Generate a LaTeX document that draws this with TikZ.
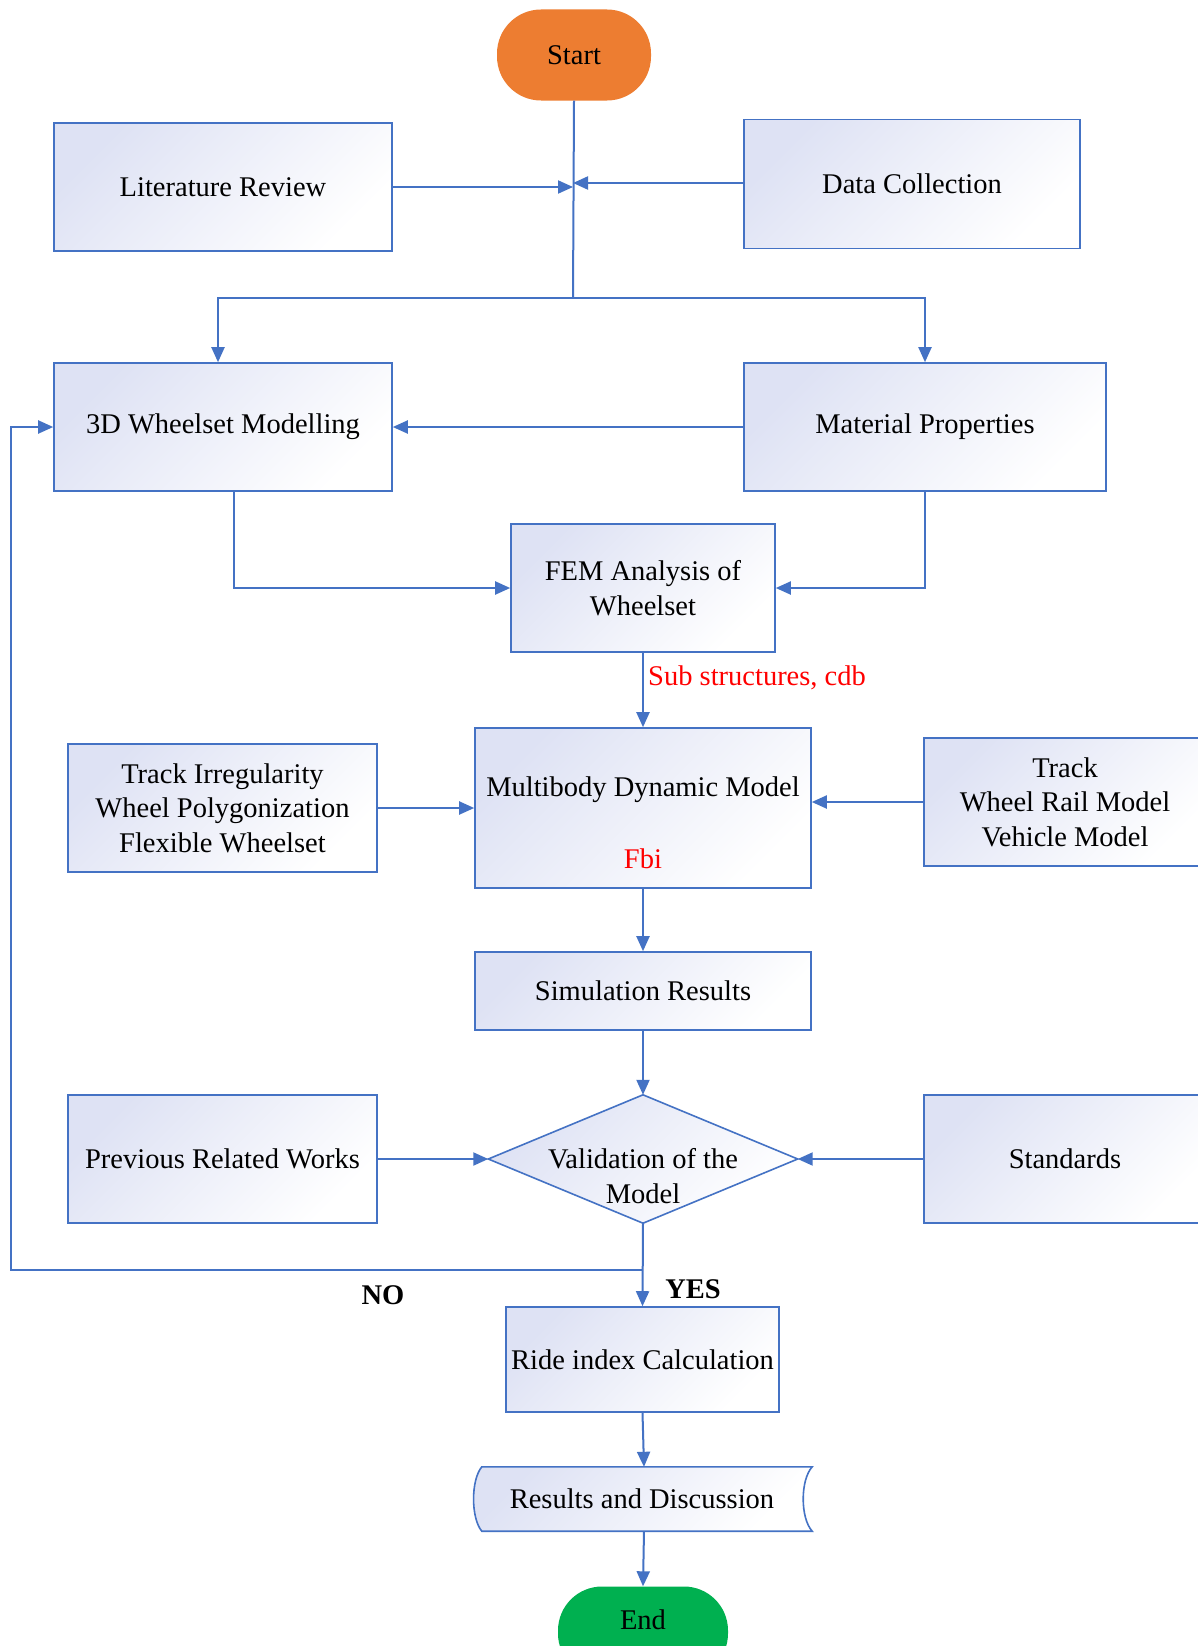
\documentclass[tikz,border=0pt]{standalone}
\usepackage{fontspec}
\setmainfont{Liberation Serif}
\usetikzlibrary{arrows.meta,calc}
\definecolor{lnc}{RGB}{68,114,196}
\definecolor{bxc}{RGB}{222,226,244}
\definecolor{orgc}{RGB}{237,125,49}
\definecolor{grnc}{RGB}{0,176,80}
\begin{document}
\begin{tikzpicture}[x=1pt,y=-1pt,
  every node/.style={font=\fontsize{28.5}{34.6}\selectfont, align=center, inner sep=0pt},
  shfill/.style={top color=bxc, bottom color=white, shading angle=45},
  box/.style={draw=lnc, line width=1.6pt, shfill},
  blank/.style={draw=none},
  term/.style={rounded corners=44pt, minimum width=154pt, minimum height=91pt},
  conn/.style={draw=lnc, line width=2pt},
  arr/.style={conn, -{Triangle[length=15pt,width=13pt]}},
  lbl/.style={font=\fontsize{28.5}{34.6}\selectfont\bfseries},
  red/.style={text=red}
]
\useasboundingbox (0,0) rectangle (1198,1646);
\clip (0,0) rectangle (1198,1646);
\fill[white] (0,0) rectangle (1198,1646);

% nodes
\node[term, fill=orgc] (start) at (574,55) {Start};
\node[box, minimum width=338pt, minimum height=128pt] (lit) at (223,187) {Literature Review};
\node[box, minimum width=336pt, minimum height=129pt] (data) at (912,184) {Data Collection};
\node[box, minimum width=338pt, minimum height=128pt] (w3d) at (223,427) {3D Wheelset Modelling};
\node[box, minimum width=362pt, minimum height=128pt] (mat) at (925,427) {Material Properties};
\node[box, minimum width=264pt, minimum height=128pt] (fem) at (643,588) {FEM Analysis of\\Wheelset};
\node[red, anchor=west] (sub) at (648,678) {Sub structures, cdb};
\node[box, minimum width=336pt, minimum height=160pt] (mbd) at (643,808) {};
\node (mbdt) at (643,790) {Multibody Dynamic Model};
\node[red] (fbi) at (643,859) {Fbi};
\node[box, minimum width=309pt, minimum height=128pt] (tirr) at (222.5,808) {Track Irregularity\\Wheel Polygonization\\Flexible Wheelset};
\node[box, minimum width=282pt, minimum height=128pt] (trk) at (1065,802) {Track\\Wheel Rail Model\\Vehicle Model};
\node[box, minimum width=336pt, minimum height=78pt] (sim) at (643,991) {Simulation Results};
\node[blank, minimum width=309pt, minimum height=128pt] (dia) at (643,1159) {};
\draw[box] (dia.north) -- (dia.east) -- (dia.south) -- (dia.west) -- cycle;
\node (diat) at (643,1176) {Validation of the\\Model};
\node[box, minimum width=309pt, minimum height=128pt] (prev) at (222.5,1159) {Previous Related Works};
\node[box, minimum width=282pt, minimum height=128pt] (std) at (1065,1159) {Standards};
\node[box, minimum width=273pt, minimum height=105pt] (ride) at (642.5,1359.5) {Ride index Calculation};
\node[blank, minimum width=336pt, minimum height=64pt] (res) at (644,1499) {};
\draw[box] ($(res.north west)+(6,0)$) -- (res.north east)
  .. controls ($(res.east)+(-12,-19)$) and ($(res.east)+(-12,19)$) .. (res.south east)
  -- ($(res.south west)+(6,0)$)
  .. controls ($(res.west)+(-5,19)$) and ($(res.west)+(-5,-19)$) .. cycle;
\node (rest) at (642,1499) {Results and Discussion};
\node[term, fill=grnc, minimum width=170pt] (end) at (643,1632) {\raisebox{24pt}{End}};
\node[lbl] (no) at (383,1295) {NO};
\node[lbl] (yes) at (693,1289) {YES};

% coordinates
\coordinate (br) at (573,298);
\coordinate (noc) at (643,1270);
\coordinate (lp) at (11,427);

% connectors
\draw[conn] (start.south) -- (br);
\draw[arr] (br) -| ([xshift=-5pt]w3d.north);
\draw[arr] (br) -| (mat.north);
\draw[arr] (lit.east) -- (lit.east -| br);
\draw[arr] ([yshift=1pt]data.west) -- ([yshift=1pt]data.west -| br);
\draw[arr] (mat.west) -- (w3d.east);
\draw[arr] ([xshift=11pt]w3d.south) |- (fem.west);
\draw[arr] (mat.south) |- (fem.east);
\draw[arr] (fem.south) -- (mbd.north);
\draw[arr] (tirr.east) -- (mbd.west);
\draw[arr] (trk.west) -- (trk.west -| mbd.east);
\draw[arr] (mbd.south) -- (sim.north);
\draw[arr] (sim.south) -- (dia.north);
\draw[arr] (prev.east) -- (dia.west);
\draw[arr] (std.west) -- (dia.east);
\draw[arr] (dia.south) -- (ride.north);
\draw[arr] (noc) -| (lp) -- (w3d.west);
\draw[arr] (ride.south) -- (res.north);
\draw[arr] (res.south) -- (end.north);
\end{tikzpicture}
\end{document}
